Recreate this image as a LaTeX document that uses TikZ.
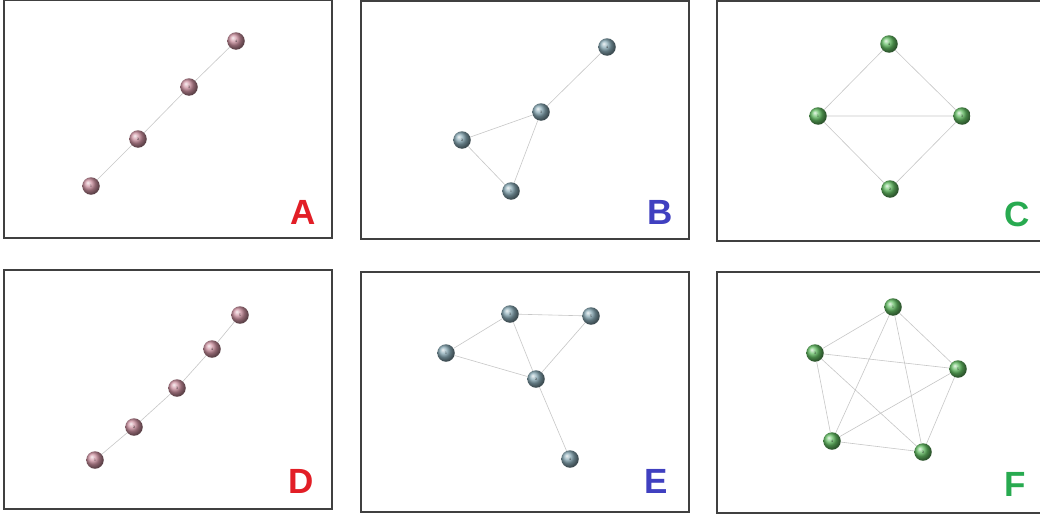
\documentclass[tikz,border=0pt]{standalone}
\usepackage{fontspec}
\newfontfamily\labfont{Liberation Sans}
\begin{document}
\begin{tikzpicture}[x=1pt,y=-1pt,
  frame/.style={draw=black!75, line width=1.1pt},
  edge/.style={draw=black!22, line width=0.6pt},
  ball/.style={circle, minimum size=17.5pt, inner sep=0pt, font=\fontsize{3.5}{3.5}\selectfont\color{black!80}},
  pinkball/.style={ball, ball color={rgb,255:red,205;green,145;blue,160}},
  blueball/.style={ball, ball color={rgb,255:red,135;green,168;blue,180}},
  greenball/.style={ball, ball color={rgb,255:red,100;green,190;blue,100}},
  tag/.style={font=\labfont\bfseries\fontsize{35}{35}\selectfont, inner sep=0pt}
]
\definecolor{tagred}{RGB}{226,30,38}
\definecolor{tagblue}{RGB}{64,64,192}
\definecolor{taggreen}{RGB}{40,170,80}
\useasboundingbox (0,0) rectangle (1040,514);
\fill[white] (0,0) rectangle (1040,514);
\clip (0,0) rectangle (1040,514);
% frames
\draw[frame] (4,0) rectangle (332,238);
\draw[frame] (361,1) rectangle (689,239);
\draw[frame] (717,1) rectangle (1050,241);
\draw[frame] (4,270) rectangle (332,509);
\draw[frame] (361,272) rectangle (689,512);
\draw[frame] (717,272) rectangle (1050,513);
% A
\node[pinkball] (a1) at (91,186) {1};
\node[pinkball] (a2) at (138,139) {2};
\node[pinkball] (a3) at (189,87) {3};
\node[pinkball] (a4) at (236,41) {4};
\draw[edge] (a1) -- (a2) (a2) -- (a3) (a3) -- (a4);
\node[tag, text=tagred] (la) at (303,212) {A};
% B
\node[blueball] (b1) at (511,191) {1};
\node[blueball] (b2) at (462,140) {2};
\node[blueball] (b3) at (541,112) {3};
\node[blueball] (b4) at (607,47) {4};
\draw[edge] (b1) -- (b2) (b2) -- (b3) (b3) -- (b1) (b3) -- (b4);
\node[tag, text=tagblue] (lb) at (660,212) {B};
% C
\node[greenball] (c4) at (889,44) {4};
\node[greenball] (c1) at (818,116) {1};
\node[greenball] (c3) at (962,116) {3};
\node[greenball] (c2) at (890,189) {2};
\draw[edge] (c4) -- (c1) (c4) -- (c3) (c1) -- (c3) (c1) -- (c2) (c3) -- (c2);
\node[tag, text=taggreen] (lc) at (1017,214) {C};
% D
\node[pinkball] (d1) at (95,460) {1};
\node[pinkball] (d2) at (134,427) {2};
\node[pinkball] (d3) at (177,388) {3};
\node[pinkball] (d4) at (212,349) {4};
\node[pinkball] (d5) at (240,315) {5};
\draw[edge] (d1) -- (d2) (d2) -- (d3) (d3) -- (d4) (d4) -- (d5);
\node[tag, text=tagred] (ld) at (301,481) {D};
% E
\node[blueball] (e1) at (446,353) {1};
\node[blueball] (e3) at (510,314) {3};
\node[blueball] (e5) at (591,316) {5};
\node[blueball] (e2) at (536,379) {2};
\node[blueball] (e4) at (570,459) {4};
\draw[edge] (e1) -- (e3) (e1) -- (e2) (e3) -- (e5) (e3) -- (e2) (e5) -- (e2) (e2) -- (e4);
\node[tag, text=tagblue] (le) at (656,481) {E};
% F
\node[greenball] (f1) at (893,307) {1};
\node[greenball] (f3) at (815,353) {3};
\node[greenball] (f5) at (958,369) {5};
\node[greenball] (f4) at (832,441) {4};
\node[greenball] (f2) at (923,452) {2};
\draw[edge] (f1) -- (f3) (f1) -- (f5) (f1) -- (f4) (f1) -- (f2)
            (f3) -- (f5) (f3) -- (f4) (f3) -- (f2)
            (f5) -- (f4) (f5) -- (f2) (f4) -- (f2);
\node[tag, text=taggreen] (lf) at (1015,484) {F};
\end{tikzpicture}
\end{document}
